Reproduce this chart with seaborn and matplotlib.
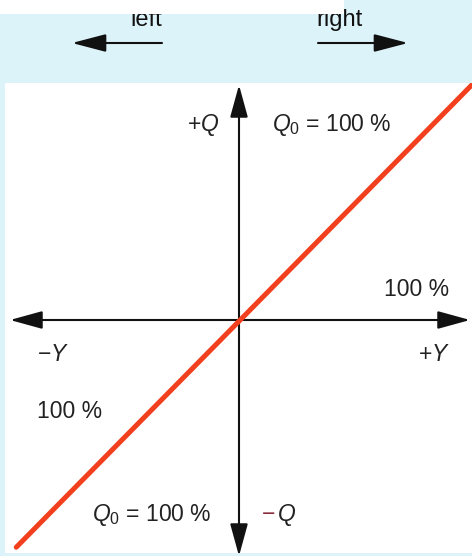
import numpy as np
import pandas as pd
import matplotlib
matplotlib.use('Agg')
import matplotlib.pyplot as plt
from matplotlib.patches import Rectangle
import seaborn as sns

# ==========================================
# DATA (in %)
# ==========================================
line_Y = [-99, 104]      # output Y along the horizontal axis
line_Q = [-101, 105]     # flow Q along the vertical axis
q0_label = '$Q_0$ = 100 %'
pct_label = '100 %'
dir_labels = ['left', 'right']

df = pd.DataFrame({'Y': line_Y, 'Q': line_Q})

# ==========================================
# STYLE
# ==========================================
sns.set_theme(style='white')
plt.rcParams['font.family'] = ['Liberation Sans', 'DejaVu Sans']
plt.rcParams['mathtext.fontset'] = 'custom'
plt.rcParams['mathtext.it'] = 'Liberation Sans:italic'
plt.rcParams['mathtext.rm'] = 'Liberation Sans'

BLUE = '#dcf3fa'
RED = '#f2401e'
W, H = 472, 556
S = 2.25              # pixels per % unit
OX, OY = 239, 320     # origin in pixels


def fx(px):
    return px / W


def fy(py):
    return 1 - py / H


fig = plt.figure(figsize=(W / 100, H / 100), dpi=100, facecolor=BLUE)
ax = fig.add_axes([fx(5), fy(553), fx(472) - fx(5), fy(83) - fy(553)])
ax.set_facecolor('white')
ax.set_xlim((5 - OX) / S, (472 - OX) / S)
ax.set_ylim((OY - 553) / S, (OY - 83) / S)
ax.set_xticks([])
ax.set_yticks([])
for sp in ax.spines.values():
    sp.set_visible(False)

# axes with arrow heads on both ends
arrow = dict(arrowstyle='<|-|>,head_length=2.0,head_width=0.55', color='#111111',
             lw=1.5, mutation_scale=10, shrinkA=0, shrinkB=0)
ax.annotate('', xy=((470 - OX) / S, 0), xytext=((10 - OX) / S, 0),
            arrowprops=arrow, annotation_clip=False, zorder=2)
ax.annotate('', xy=(0, (OY - 85) / S), xytext=(0, (OY - 556) / S),
            arrowprops=arrow, annotation_clip=False, zorder=2)

# characteristic line
sns.lineplot(data=df, x='Y', y='Q', color=RED, lw=3.6, ax=ax, zorder=3)
ax.set_xlabel('')
ax.set_ylabel('')

# labels
fs = 16.5
fig.text(fx(187), fy(131), '+$Q$', fontsize=fs, va='baseline', color='#222222')
fig.text(fx(272), fy(131), q0_label, fontsize=fs, va='baseline', color='#222222')
fig.text(fx(384), fy(296), pct_label, fontsize=fs, va='baseline', color='#222222')
fig.text(fx(37), fy(361), '\u2212$Y$', fontsize=fs, va='baseline', color='#222222')
fig.text(fx(418), fy(361), '+$Y$', fontsize=fs, va='baseline', color='#222222')
fig.text(fx(37), fy(418), pct_label, fontsize=fs, va='baseline', color='#222222')
fig.text(fx(92), fy(521), q0_label, fontsize=fs, va='baseline', color='#222222')
fig.text(fx(262), fy(521), '\u2212', fontsize=fs, va='baseline', color='#8a2a3a')
fig.text(fx(277), fy(521), '$Q$', fontsize=fs, va='baseline', color='#222222')

# direction arrows in the blue band
top_arrow = dict(arrowstyle='-|>,head_length=2.1,head_width=0.55', color='#111111',
                 lw=1.5, mutation_scale=10, shrinkA=0, shrinkB=0)
ax.annotate('', xy=(72, H - 43), xytext=(162, H - 43), xycoords='figure pixels',
            textcoords='figure pixels', arrowprops=top_arrow, annotation_clip=False)
ax.annotate('', xy=(408, H - 43), xytext=(318, H - 43), xycoords='figure pixels',
            textcoords='figure pixels', arrowprops=top_arrow, annotation_clip=False)
fig.text(fx(130), fy(26), dir_labels[0], fontsize=17, va='baseline', color='#111111')
fig.text(fx(316), fy(26), dir_labels[1], fontsize=17, va='baseline', color='#111111')

# cropped header strip
fig.patches.append(Rectangle((0, fy(14)), fx(344), 14 / H, transform=fig.transFigure,
                             facecolor='white', edgecolor='none', zorder=10))

plt.savefig('out.png', dpi=100, facecolor=BLUE)
